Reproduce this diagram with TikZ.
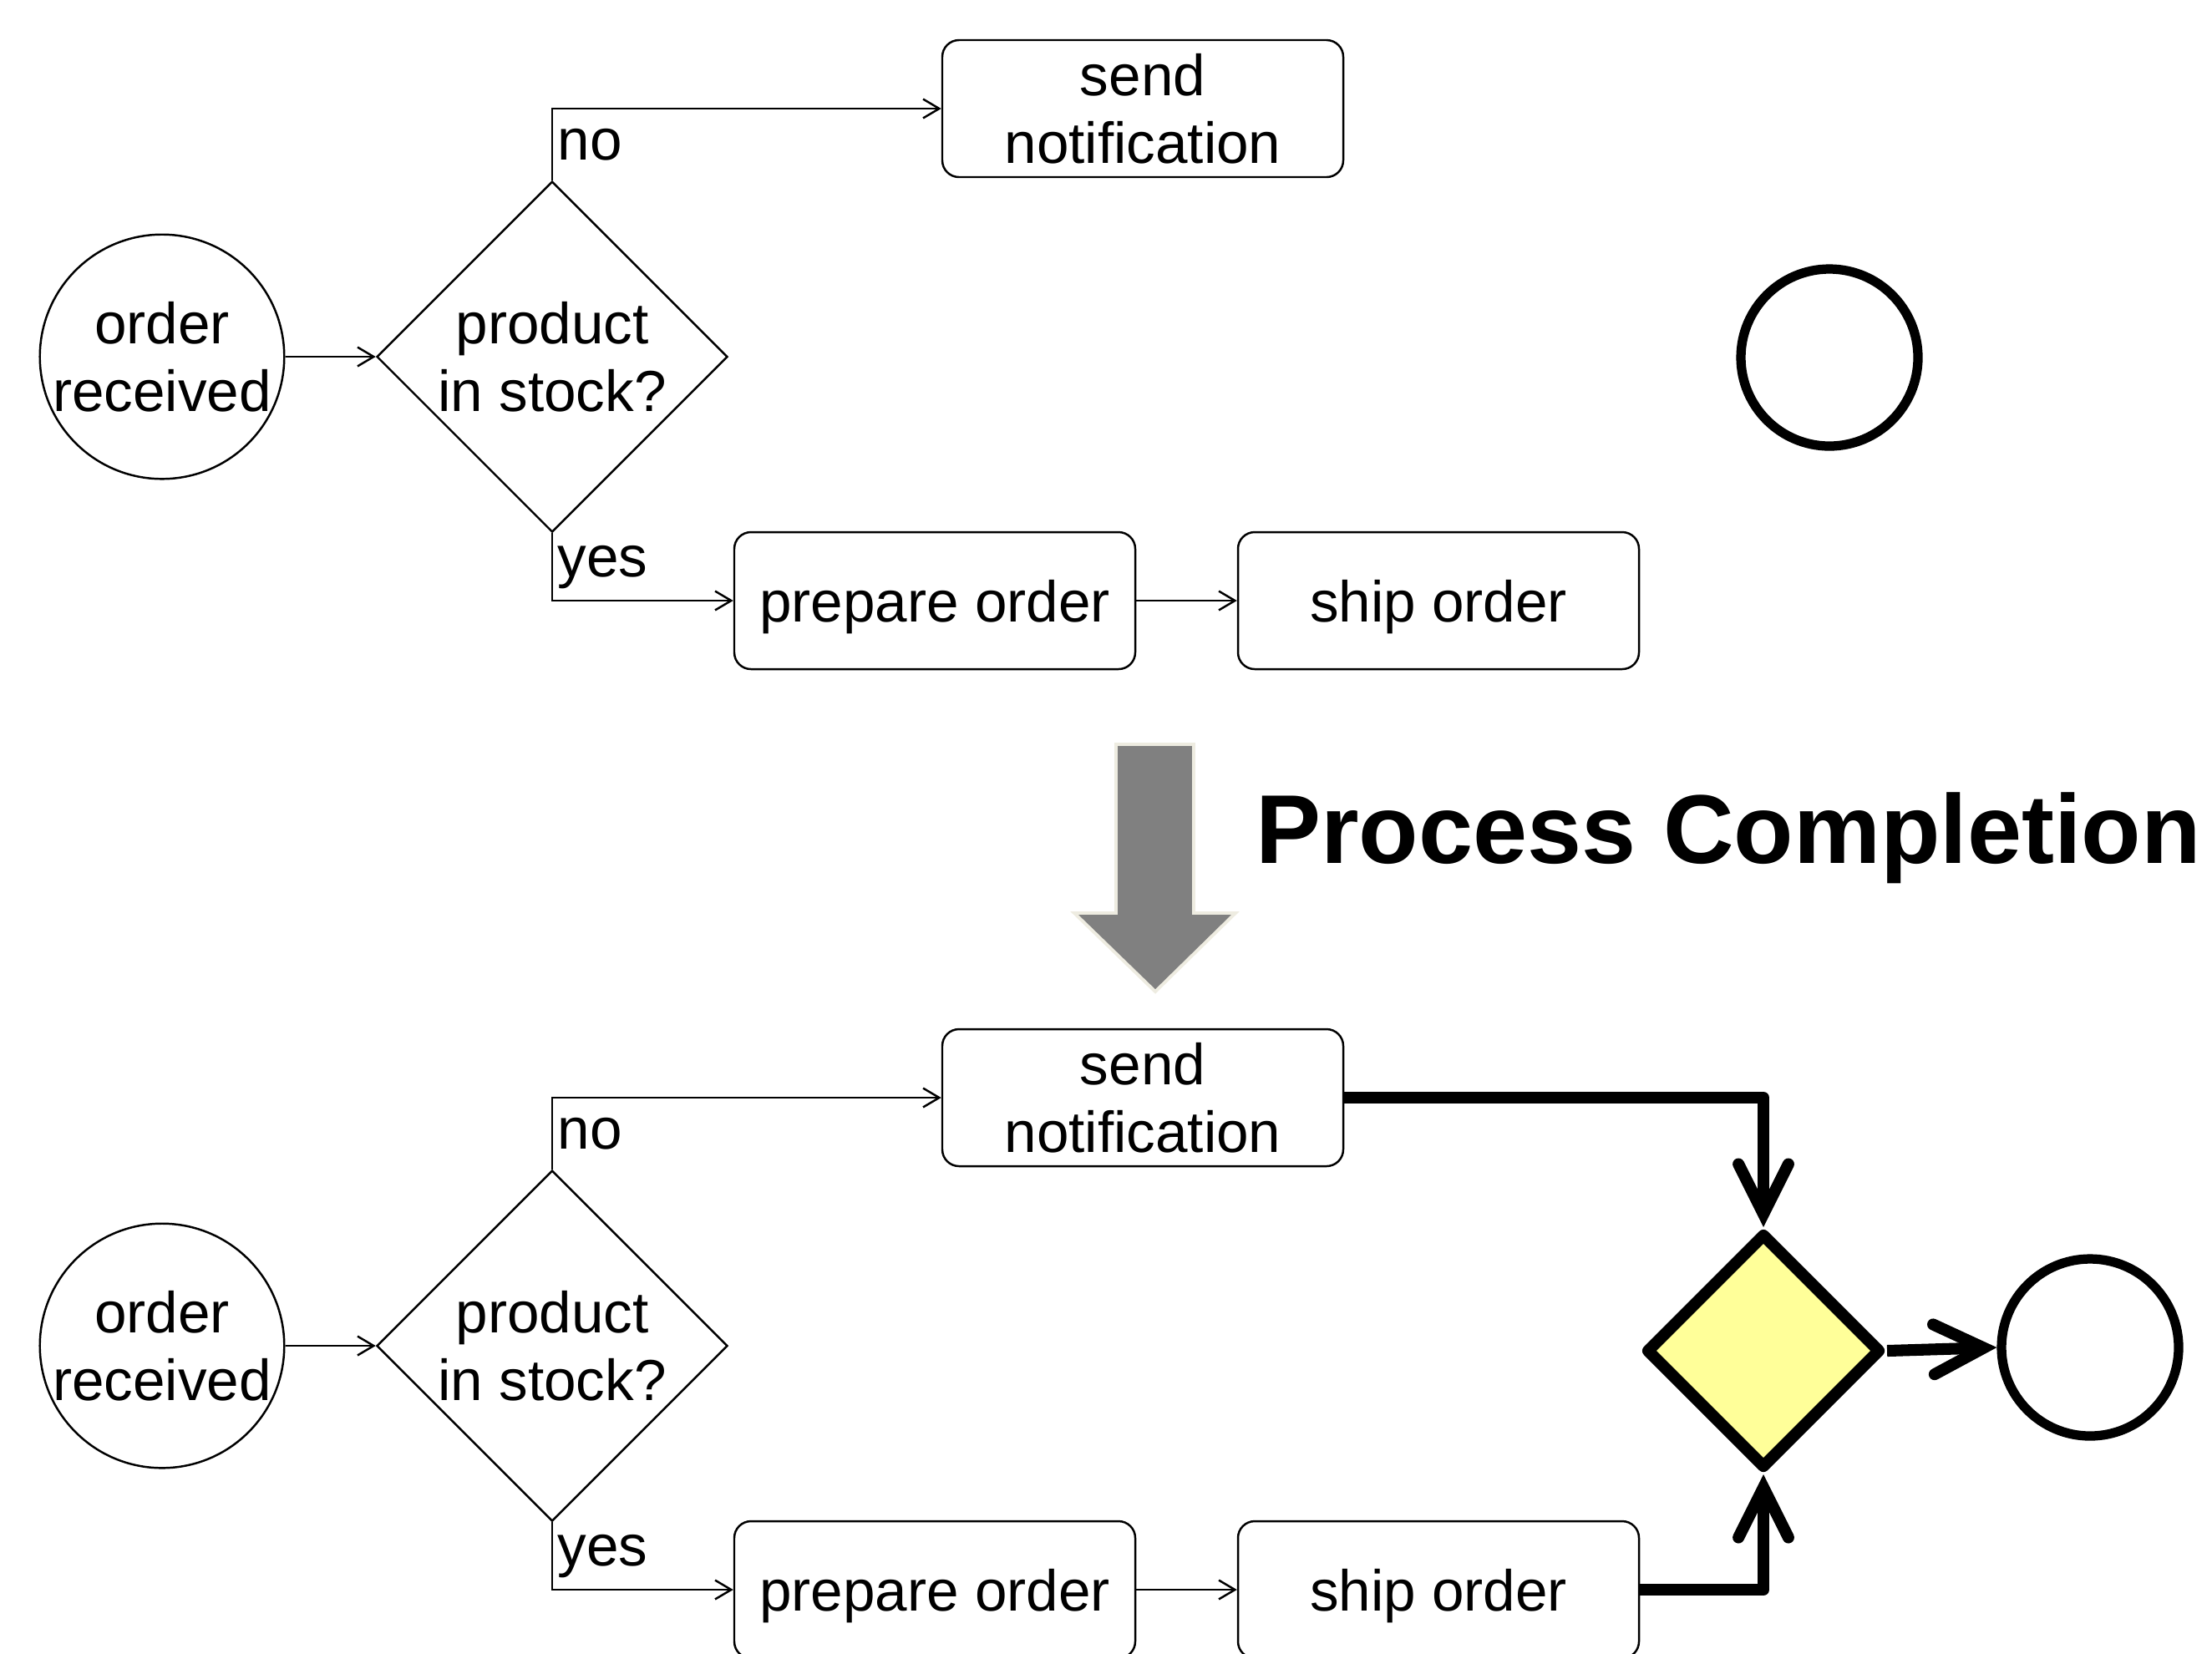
\documentclass[tikz,border=0pt]{standalone}
\usepackage{fontspec}
\setmainfont{Liberation Sans}
\usetikzlibrary{arrows.meta,shapes.geometric}
\definecolor{joinyellow}{HTML}{FFFF99}
\definecolor{shadebeige}{HTML}{EEECE1}

\begin{document}
\begin{tikzpicture}[->,>={Straight Barb[length=5.5pt,width=6.5pt]},line width=0.7pt,node distance=6.03cm,
  every node/.style={font=\fontsize{19.7}{23}\selectfont},
  startevt/.style={circle,draw,minimum size=2.92cm,inner sep=0pt,align=center},
  gateway/.style={diamond,draw,minimum width=4.2cm,minimum height=4.2cm,inner sep=0pt,align=center},
  task/.style={rectangle,draw,rounded corners=0.2cm,minimum width=4.8cm,minimum height=1.64cm,inner sep=0pt,text depth=0pt,align=center},
  endevt/.style={circle,draw,line width=3.2pt,minimum size=2.12cm,inner sep=0pt},
  joingate/.style={diamond,draw,line width=4pt,line join=round,fill=joinyellow,minimum width=2.82cm,minimum height=2.82cm,inner sep=0pt},
  seqflow/.style={line width=4pt,line join=round,-{Straight Barb[length=17pt,width=17pt,line cap=round]}},
  branch/.style={anchor=west,inner sep=1.5pt}]
  \useasboundingbox (0,0) rectangle (26.48,-19.79);

  % before
  \node[startevt] (rcv1) at (1.94,-4.27) {order\\received};
  \node[gateway] (chk1) [right of=rcv1,node distance=4.67cm] {product\\in stock?};
  \node[task] (note1) at (13.68,-1.30) {send\\notification};
  \node[task] (prep1) at (11.19,-7.19) {prepare order};
  \node[task] (ship1) [right of=prep1] {ship order};
  \node[endevt] (end1) at (21.90,-4.28) {};
  \draw (rcv1) -- (chk1);
  \draw (chk1.north) |- node[branch,pos=0.25] {no} (note1.west);
  \draw (chk1.south) |- node[branch,pos=0.25] {yes} (prep1.west);
  \draw (prep1) -- (ship1);

  % transformation
  \draw[-,fill=gray,draw=shadebeige,line width=1.1pt] (13.36,-8.91) -- (14.29,-8.91) -- (14.29,-10.93) -- (14.79,-10.93)
    -- (13.83,-11.87) -- (12.86,-10.93) -- (13.36,-10.93) -- cycle;
  \node[anchor=base west,inner sep=0pt,font=\bfseries\fontsize{33.3}{40}\selectfont] (title) at (15.02,-10.33) {Process Completion};

  % after
  \node[startevt] (rcv2) at (1.94,-16.11) {order\\received};
  \node[gateway] (chk2) [right of=rcv2,node distance=4.67cm] {product\\in stock?};
  \node[task] (note2) at (13.68,-13.14) {send\\notification};
  \node[task] (prep2) at (11.19,-19.03) {prepare order};
  \node[task] (ship2) [right of=prep2] {ship order};
  \node[joingate] (join) at (21.11,-16.17) {};
  \node[endevt] (end2) at (25.02,-16.13) {};
  \draw (rcv2) -- (chk2);
  \draw (chk2.north) |- node[branch,pos=0.25] {no} (note2.west);
  \draw (chk2.south) |- node[branch,pos=0.25] {yes} (prep2.west);
  \draw (prep2) -- (ship2);
  \draw[seqflow] (note2.east) -| (join.north);
  \draw[seqflow] (ship2.east) -| (join.south);
  \draw[seqflow] (join.east) -- (end2.west);
\end{tikzpicture}
\end{document}
